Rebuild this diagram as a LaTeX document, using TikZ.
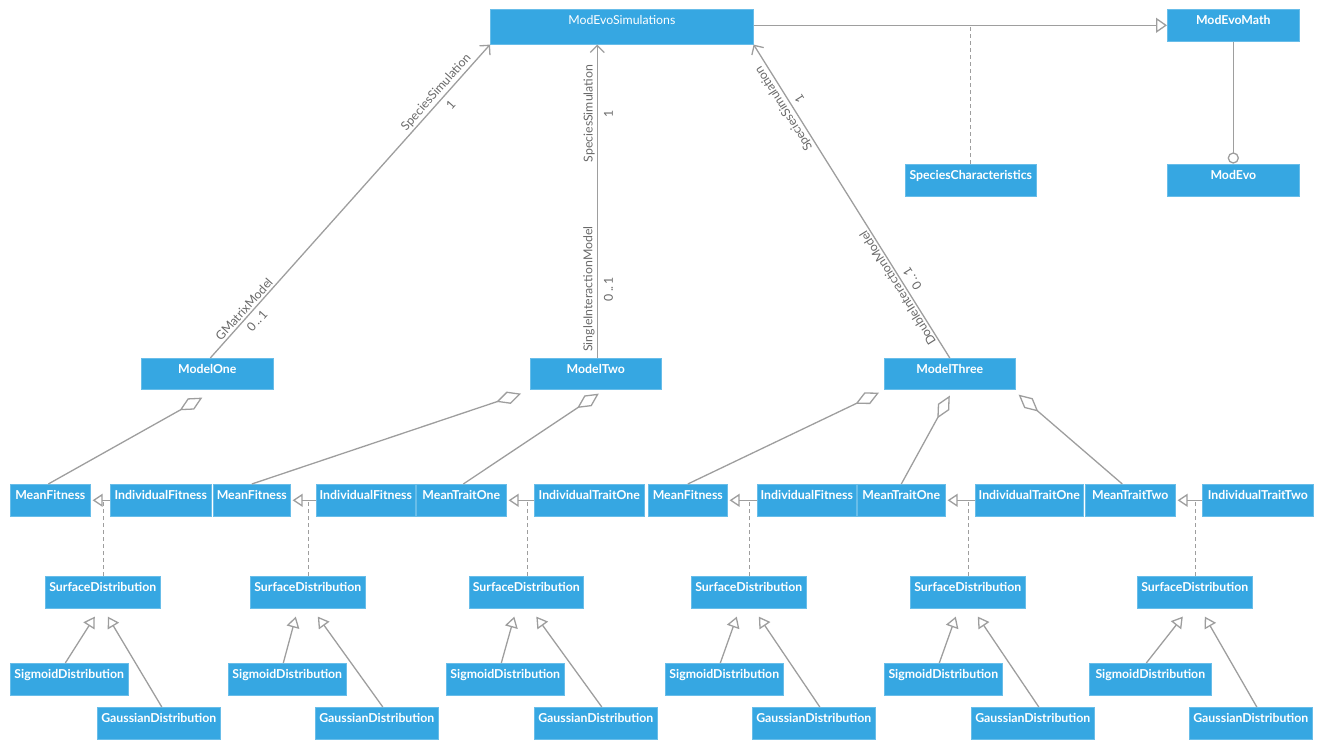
\documentclass[tikz,border=0pt]{standalone}
\usepackage{fontspec}
\setmainfont{Lato}
\usetikzlibrary{arrows.meta,calc}
\definecolor{boxblue}{RGB}{54,167,226}
\definecolor{lnk}{RGB}{158,158,158}
\definecolor{lbltxt}{RGB}{105,105,105}
\begin{document}
\begin{tikzpicture}[x=1pt,y=-1pt,
  cls/.style={anchor=north west, fill=boxblue, draw=boxblue!75!white, line width=0.6pt,
    text=white, font=\fontsize{12.3}{14}\selectfont\bfseries, inner xsep=0pt, inner ysep=0pt,
    minimum width=#1pt, text height=15.5pt, text depth=16.5pt, align=center},
  ln/.style={draw=lnk, line width=1.3pt},
  assoc/.style={ln, -{Straight Barb[length=7pt,width=14pt]}},
  gen/.style={ln, -{Triangle[open,length=11pt,width=13pt]}},
  gensm/.style={ln, -{Triangle[open,length=10pt,width=13pt]}},
  agg/.style={ln, {Diamond[open,length=26pt,width=13pt]}-},
  dsh/.style={ln, dash pattern=on 4pt off 3pt},
  lbl/.style={font=\fontsize{12.3}{14}\selectfont, text=lbltxt, sloped, allow upside down, inner sep=2pt},
]
\useasboundingbox (0,0) rectangle (1322,749);

% top row
\node[cls=263, text height=15pt, text depth=20pt, font=\fontsize{12.3}{14}\selectfont] (sim) at (490,9) {ModEvoSimulations};
\node[cls=132] (math) at (1167,9) {ModEvoMath};
\node[cls=131] (spc) at (905,164) {SpeciesCharacteristics};
\node[cls=132] (evo) at (1167,164) {ModEvo};

% models
\node[cls=132, text depth=15.5pt] (m1) at (141,358) {ModelOne};
\node[cls=131, text depth=15.5pt] (m2) at (530,358) {ModelTwo};
\node[cls=131, text depth=15.5pt] (m3) at (884,358) {ModelThree};

% mean / individual row
\node[cls=80]  (mf1) at (10,484)   {MeanFitness};
\node[cls=101] (if1) at (110,484)  {IndividualFitness};
\node[cls=77]  (mf2) at (213,484)  {MeanFitness};
\node[cls=99]  (if2) at (316,484)  {IndividualFitness};
\node[cls=90]  (mt1) at (416,484)  {MeanTraitOne};
\node[cls=110] (it1) at (534,484)  {IndividualTraitOne};
\node[cls=79]  (mf3) at (648,484)  {MeanFitness};
\node[cls=99]  (if3) at (757,484)  {IndividualFitness};
\node[cls=88]  (mt3) at (857,484)  {MeanTraitOne};
\node[cls=108] (it3) at (975,484)  {IndividualTraitOne};
\node[cls=90]  (mt2) at (1085,484) {MeanTraitTwo};
\node[cls=111] (it2) at (1202,484) {IndividualTraitTwo};

% surface distributions
\node[cls=115] (s1) at (45,576)   {SurfaceDistribution};
\node[cls=115] (s2) at (250,576)  {SurfaceDistribution};
\node[cls=114] (s3) at (469,576)  {SurfaceDistribution};
\node[cls=115] (s4) at (691,576)  {SurfaceDistribution};
\node[cls=115] (s5) at (910,576)  {SurfaceDistribution};
\node[cls=115] (s6) at (1137,576) {SurfaceDistribution};

% sigmoid
\node[cls=118] (sg1) at (10,663)   {SigmoidDistribution};
\node[cls=118] (sg2) at (228,663)  {SigmoidDistribution};
\node[cls=118] (sg3) at (446,663)  {SigmoidDistribution};
\node[cls=118] (sg4) at (665,663)  {SigmoidDistribution};
\node[cls=118] (sg5) at (884,663)  {SigmoidDistribution};
\node[cls=122] (sg6) at (1089,663) {SigmoidDistribution};

% gaussian
\node[cls=123] (ga1) at (97,707)   {GaussianDistribution};
\node[cls=123] (ga2) at (315,707)  {GaussianDistribution};
\node[cls=123] (ga3) at (534,707)  {GaussianDistribution};
\node[cls=123] (ga4) at (752,707)  {GaussianDistribution};
\node[cls=123] (ga5) at (971,707)  {GaussianDistribution};
\node[cls=123] (ga6) at (1189,707) {GaussianDistribution};

% top connectors
\draw[ln, -{Triangle[open,length=11pt,width=15pt]}] (sim.east |- math.west) -- (math.west);
\draw[dsh] (spc.north) -- (spc.north |- math.west);
\draw[ln] (math.south) -- ($(evo.north)+(0,-11)$);
\draw[ln] ($(evo.north)+(0,-6)$) circle (5pt);

% associations
\draw[assoc] ($(m1.north)+(3,0)$) -- (sim.south west)
  node[lbl, pos=0.14, above] (l1a) {GMatrixModel}
  node[lbl, pos=0.14, below, inner sep=5pt] (l1b) {0\,..\,1}
  node[lbl, pos=0.83, above] (l1c) {SpeciesSimulation}
  node[lbl, pos=0.83, below, inner sep=6pt] (l1d) {1};
\draw[assoc] ($(m2.north)+(1.5,0)$) -- ($(m2.north |- sim.south)+(1.5,0)$)
  node[lbl, pos=0.22, above] (l2a) {SingleInteractionModel}
  node[lbl, pos=0.22, below, inner sep=6pt] (l2b) {0\,..\,1}
  node[lbl, pos=0.78, above] (l2c) {SpeciesSimulation}
  node[lbl, pos=0.78, below, inner sep=6pt] (l2d) {1};
\draw[assoc] (m3.north) -- (sim.south east)
  node[lbl, pos=0.235, above] (l3a) {DoubleInteractionModel}
  node[lbl, pos=0.235, below, inner sep=5pt] (l3b) {0\,..\,1}
  node[lbl, pos=0.81, above] (l3c) {SpeciesSimulation}
  node[lbl, pos=0.81, below, inner sep=5pt] (l3d) {1};

% aggregations
\draw[agg] ($(m1.south)+(-5,8)$) -- ($(mf1.north)+(-2,0)$);
\draw[agg] ($(m2.south west)+(-9,4)$) -- (mf2.north);
\draw[agg] ($(m2.south)+(3,4)$) -- ($(mt1.north)+(2,0)$);
\draw[agg] ($(m3.south west)+(-5,3)$) -- (mf3.north);
\draw[agg] ($(m3.south)+(0,6)$) -- (mt3.north);
\draw[agg] ($(m3.south east)+(3,5)$) -- ($(mt2.north)+(-8,0)$);

% individual -> mean with association class dashed link
\foreach \i/\m/\s in {if1/mf1/s1, if2/mf2/s2, it1/mt1/s3, if3/mf3/s4, it3/mt3/s5, it2/mt2/s6}{
  \draw[gensm] (\i.west) -- ($(\m.east)+(2,0)$);
  \draw[dsh] ($(\s.north)+(1,0)$) -- ($(\s.north |- \i.west)+(1,0)$);
}

% generalizations to surface distributions
\draw[gen] ($(sg1.north)+(-4,0)$) -- ($(s1.south)+(-8,8)$);
\draw[gen] ($(ga1.north)+(3,0)$)  -- ($(s1.south)+(5,8)$);
\draw[gen] ($(sg2.north)+(-4,0)$) -- ($(s2.south)+(-12,8)$);
\draw[gen] ($(ga2.north)+(6,0)$)  -- ($(s2.south)+(10,8)$);
\draw[gen] ($(sg3.north)+(-4,0)$) -- ($(s3.south)+(-12,8)$);
\draw[gen] ($(ga3.north)+(6,0)$)  -- ($(s3.south)+(10,8)$);
\draw[gen] ($(sg4.north)+(-4,0)$) -- ($(s4.south)+(-12,8)$);
\draw[gen] ($(ga4.north)+(6,0)$)  -- ($(s4.south)+(10,8)$);
\draw[gen] ($(sg5.north)+(-4,0)$) -- ($(s5.south)+(-12,8)$);
\draw[gen] ($(ga5.north)+(6,0)$)  -- ($(s5.south)+(10,8)$);
\draw[gen] ($(sg6.north)+(-4,0)$) -- ($(s6.south)+(-12,8)$);
\draw[gen] ($(ga6.north)+(6,0)$)  -- ($(s6.south)+(10,8)$);
\end{tikzpicture}
\end{document}
